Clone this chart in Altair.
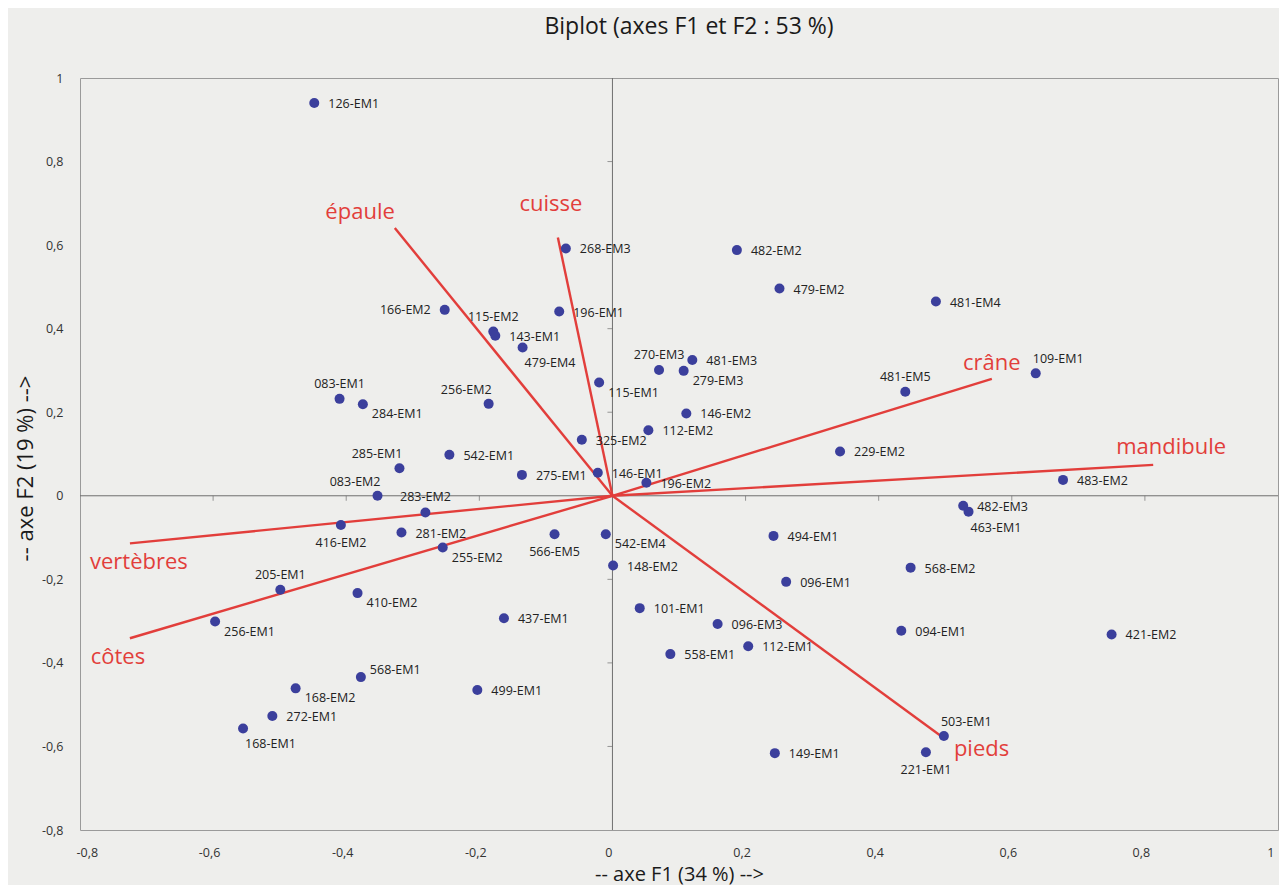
import altair as alt
import pandas as pd

# ---------------- data ----------------
NAMES = ["126-EM1", "268-EM3", "482-EM2", "479-EM2", "481-EM4", "166-EM2", "196-EM1",
         "115-EM2", "143-EM1", "479-EM4", "270-EM3", "481-EM3", "279-EM3", "115-EM1",
         "256-EM2", "146-EM2", "112-EM2", "325-EM2", "542-EM1", "146-EM1", "275-EM1",
         "196-EM2", "229-EM2", "481-EM5", "109-EM1", "483-EM2", "482-EM3", "463-EM1",
         "568-EM2", "494-EM1", "096-EM1", "542-EM4", "566-EM5", "148-EM2", "255-EM2",
         "281-EM2", "283-EM2", "083-EM2", "285-EM1", "083-EM1", "284-EM1", "416-EM2",
         "205-EM1", "410-EM2", "256-EM1", "568-EM1", "168-EM2", "272-EM1", "168-EM1",
         "437-EM1", "499-EM1", "101-EM1", "096-EM3", "112-EM1", "558-EM1", "149-EM1",
         "094-EM1", "421-EM2", "503-EM1", "221-EM1"]
F1 = [-0.448, -0.070, 0.187, 0.251, 0.486, -0.252, -0.080,
      -0.179, -0.176, -0.135, 0.070, 0.120, 0.107, -0.020,
      -0.186, 0.111, 0.054, -0.046, -0.245, -0.022, -0.136,
      0.051, 0.342, 0.440, 0.636, 0.677, 0.527, 0.535,
      0.448, 0.242, 0.261, -0.010, -0.087, 0.001, -0.255,
      -0.317, -0.281, -0.353, -0.320, -0.410, -0.375, -0.408,
      -0.499, -0.383, -0.597, -0.378, -0.476, -0.511, -0.555,
      -0.163, -0.203, 0.041, 0.158, 0.204, 0.087, 0.244,
      0.434, 0.750, 0.498, 0.471]
F2 = [0.940, 0.592, 0.588, 0.496, 0.465, 0.445, 0.441,
      0.393, 0.383, 0.355, 0.301, 0.325, 0.299, 0.271,
      0.220, 0.197, 0.157, 0.134, 0.098, 0.055, 0.050,
      0.031, 0.106, 0.249, 0.293, 0.038, -0.024, -0.038,
      -0.172, -0.096, -0.206, -0.092, -0.092, -0.167, -0.124,
      -0.088, -0.040, 0.000, 0.066, 0.232, 0.219, -0.070,
      -0.225, -0.233, -0.301, -0.434, -0.461, -0.527, -0.557,
      -0.293, -0.465, -0.269, -0.307, -0.360, -0.379, -0.616,
      -0.323, -0.332, -0.575, -0.614]
# label placement code relative to the point (r=right, l=left, t=top, b=below ...)
LABEL_POS = ["r", "r", "r", "r", "r", "l", "r",
             "t", "r", "bs", "t", "r", "br", "br",
             "tl", "r", "r", "r", "r", "r", "r",
             "r", "r", "t", "tr", "r", "r", "bs",
             "r", "r", "r", "br", "b", "r", "br",
             "r", "t", "tl", "tl", "t", "br", "b",
             "t", "br", "br", "ur", "br", "r", "bs",
             "r", "r", "r", "r", "r", "r", "r",
             "r", "r", "tr", "b"]

VEC_NAMES = ["épaule", "cuisse", "crâne", "mandibule", "vertèbres", "côtes", "pieds"]
VEC_F1 = [-0.327, -0.082, 0.570, 0.8125, -0.725, -0.725, 0.492]
VEC_F2 = [0.641, 0.618, 0.280, 0.074, -0.114, -0.341, -0.573]
VEC_POS = ["tl", "tt", "t", "tr", "b", "bl", "br"]

TICKS = [-0.8, -0.6, -0.4, -0.2, 0, 0.2, 0.4, 0.6, 0.8, 1]

TITLE = "Biplot (axes F1 et F2 : 53 %)"
X_TITLE = "-- axe F1 (34 %) -->"
Y_TITLE = "-- axe F2 (19 %) -->"

# ---------------- tables ----------------
pts = pd.DataFrame({"name": NAMES, "x": F1, "y": F2, "pos": LABEL_POS})
vec = pd.DataFrame({"name": VEC_NAMES, "x": [0.0] * len(VEC_NAMES), "y": [0.0] * len(VEC_NAMES),
                    "x2": VEC_F1, "y2": VEC_F2, "pos": VEC_POS})
lo, hi = TICKS[0], TICKS[-1]
axes_df = pd.DataFrame({"x": [lo, 0.0], "x2": [hi, 0.0], "y": [0.0, lo], "y2": [0.0, hi]})
xt = pd.DataFrame({"x": [t for t in TICKS if t not in (lo, 0, hi)], "y": 0.0})
yt = pd.DataFrame({"y": [t for t in TICKS if t not in (lo, 0, hi)], "x": 0.0})

FONT = "Open Sans"
RED = "#e23e3b"
BLUE = "#3b3f9c"
LABEL_EXPR = "(datum.value < 0 ? '-' : '') + replace(format(abs(datum.value), '.1~f'), '.', ',')"

xscale = alt.Scale(domain=[lo, hi], nice=False, zero=False)
yscale = alt.Scale(domain=[lo, hi], nice=False, zero=False)

X = alt.X("x:Q", scale=xscale, axis=alt.Axis(
    values=TICKS, grid=False, ticks=False, domain=False, labelExpr=LABEL_EXPR,
    labelFont=FONT, labelFontSize=12.5, labelColor="#333333", labelPadding=16, labelOffset=-4,
    title=X_TITLE, titleFont=FONT, titleFontSize=20, titleFontWeight="normal",
    titleColor="#1a1a1a", titleY=44, titleBaseline="middle"))
Y = alt.Y("y:Q", scale=yscale, axis=alt.Axis(
    values=TICKS, grid=False, ticks=False, domain=False, labelExpr=LABEL_EXPR,
    labelFont=FONT, labelFontSize=12.5, labelColor="#333333", labelPadding=17,
    title=Y_TITLE, titleFont=FONT, titleFontSize=22, titleFontWeight="normal",
    titleColor="#1a1a1a", titleX=-55, titleY=390, titleAngle=-90, titleBaseline="middle",
    titleAlign="center"))

axis_lines = alt.Chart(axes_df).mark_rule(color="#6f6f6f", strokeWidth=1).encode(
    x=X, y=Y, x2="x2:Q", y2="y2:Q")
xticks = alt.Chart(xt).mark_tick(color="#6f6f6f", orient="vertical", size=5, thickness=1,
                                 yOffset=2.5).encode(x=X, y=Y)
yticks = alt.Chart(yt).mark_tick(color="#6f6f6f", orient="horizontal", size=5, thickness=1,
                                 xOffset=-2.5).encode(x=X, y=Y)

vectors = alt.Chart(vec).mark_rule(color=RED, strokeWidth=2.4).encode(
    x=X, y=Y, x2="x2:Q", y2="y2:Q")

points = alt.Chart(pts).mark_point(filled=True, size=100, color=BLUE, opacity=1).encode(x=X, y=Y)

PT_OFF = {
    "r": ("left", 14, 1), "l": ("right", -14, 0), "t": ("center", 0, -15),
    "b": ("center", 0, 18), "tl": ("right", 3, -14), "tr": ("left", -3, -14),
    "br": ("left", 9, 10), "bs": ("left", 2, 16), "ur": ("left", 9, -7),
}
label_layers = []
for code, (al, dx, dy) in PT_OFF.items():
    label_layers.append(
        alt.Chart(pts).transform_filter(alt.datum.pos == code).mark_text(
            align=al, baseline="middle", dx=dx, dy=dy, font=FONT, fontSize=12.5,
            color="#222222").encode(x=X, y=Y, text="name:N"))

VEC_OFF = {
    "tl": ("right", 0, -16), "tt": ("center", -7, -34), "t": ("center", 0, -16),
    "tr": ("center", 18, -18), "b": ("center", 9, 19), "bl": ("center", -12, 19),
    "br": ("left", 14, 14),
}
vec_layers = []
for code, (al, dx, dy) in VEC_OFF.items():
    vec_layers.append(
        alt.Chart(vec).transform_filter(alt.datum.pos == code).mark_text(
            align=al, baseline="middle", dx=dx, dy=dy, font=FONT, fontSize=22,
            color=RED).encode(x=alt.X("x2:Q", scale=xscale), y=alt.Y("y2:Q", scale=yscale),
                              text="name:N"))

chart = alt.layer(axis_lines, xticks, yticks, vectors, points, *label_layers, *vec_layers).properties(
    width=1198, height=752,
    title=alt.TitleParams(TITLE, font=FONT, fontSize=23, fontWeight="normal", color="#1a1a1a",
                          anchor="middle", offset=33, dx=10),
    background="#eeeeec",
    padding={"left": 72, "top": 70, "right": 1, "bottom": 55},
    autosize=alt.AutoSizeParams(type="none"),
).configure_view(stroke="#9a9a9a", strokeWidth=1)

chart.save("out.html", embed_options={"renderer": "svg", "actions": False})
